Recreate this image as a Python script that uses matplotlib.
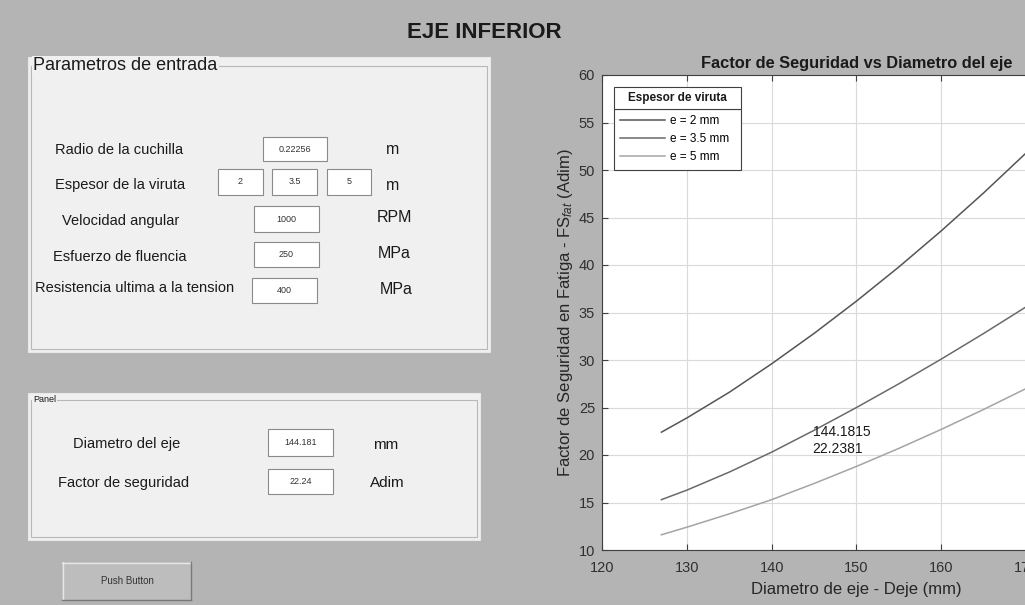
import matplotlib.pyplot as plt
from matplotlib.patches import Rectangle

plt.rcParams['font.family'] = ['Liberation Sans', 'DejaVu Sans']
plt.rcParams['mathtext.fontset'] = 'custom'
plt.rcParams['mathtext.rm'] = 'Liberation Sans'
plt.rcParams['mathtext.it'] = 'Liberation Sans:italic'

# --- Data ---
diam = [127, 130, 135, 140, 145, 150, 155, 160, 165, 170]          # mm
fs_e2 = [22.4, 23.9, 26.6, 29.6, 32.8, 36.2, 39.8, 43.6, 47.6, 51.8]
fs_e35 = [15.3, 16.3, 18.2, 20.3, 22.6, 25.0, 27.5, 30.1, 32.8, 35.6]
fs_e5 = [11.6, 12.4, 13.8, 15.3, 17.0, 18.8, 20.7, 22.7, 24.8, 27.0]
series_labels = ['e = 2 mm', 'e = 3.5 mm', 'e = 5 mm']
series_colors = ['#555555', '#6a6a6a', '#a4a4a4']

sel_d = 144.1815
sel_fs = 22.2381

# GUI input fields
inputs = [
    ('Radio de la cuchilla', ['0.22256'], 'm'),
    ('Espesor de la viruta', ['2', '3.5', '5'], 'm'),
    ('Velocidad angular', ['1000'], 'RPM'),
    ('Esfuerzo de fluencia', ['250'], 'MPa'),
    ('Resistencia ultima a la tension', ['400'], 'MPa'),
]
outputs = [
    ('Diametro del eje', '144.181', 'mm'),
    ('Factor de seguridad', '22.24', 'Adim'),
]

W, H = 1025, 605
BG = '#b4b4b4'
PANEL = '#f0f0f0'
TXT = '#1a1a1a'

fig = plt.figure(figsize=(W / 100, H / 100), dpi=100, facecolor=BG)

# --- background layer in pixel coordinates for the GUI widgets ---
bg = fig.add_axes([0, 0, 1, 1])
bg.set_xlim(0, W)
bg.set_ylim(H, 0)
bg.axis('off')


def rect(x0, y0, x1, y1, fc, ec='none', lw=0.8):
    bg.add_patch(Rectangle((x0, y0), x1 - x0, y1 - y0, fc=fc, ec=ec, lw=lw))


def edit_box(x0, y0, x1, y1, s):
    rect(x0, y0, x1, y1, 'white', '#8a8a8a', 0.8)
    bg.text((x0 + x1) / 2, (y0 + y1) / 2, s, ha='center', va='center',
            fontsize=6.5, color='#333333')


def panel(x0, y0, x1, y1, ty, title, tsize):
    rect(x0, y0, x1, y1, PANEL, '#e8e8e8', 0.8)
    rect(x0 + 3, ty, x1 - 3, y1 - 3, 'none', '#b8b8b8', 0.8)
    bg.text(x0 + 5, ty, title, ha='left', va='center', fontsize=tsize,
            color=TXT, bbox=dict(fc=PANEL, ec='none', pad=1))


bg.text(484, 32, 'EJE INFERIOR', ha='center', va='center', fontsize=16,
        fontweight='bold', color=TXT)

# panel 1: inputs
panel(28, 57, 490, 352, 66, 'Parametros de entrada', 13)
label_pos = [(55, 150), (55, 185), (62, 221), (53, 257), (35, 288)]
box_pos = [
    [(263, 137, 327, 161)],
    [(218, 169, 263, 195), (272, 169, 317, 195), (327, 169, 371, 195)],
    [(254, 206, 319, 232)],
    [(254, 242, 319, 267)],
    [(252, 278, 317, 303)],
]
unit_pos = [(393, 150), (393, 185), (395, 218), (394, 254), (396, 290)]
for (lab, vals, unit), (lx, ly), boxes, (ux, uy) in zip(inputs, label_pos, box_pos, unit_pos):
    bg.text(lx, ly, lab, ha='left', va='center', fontsize=10.5, color=TXT)
    for b, v in zip(boxes, vals):
        edit_box(*b, v)
    bg.text(ux, uy, unit, ha='center', va='center', fontsize=11.5, color=TXT)

# panel 2: results
panel(28, 393, 480, 540, 400, 'Panel', 6.5)
out_label = [(73, 444), (58, 483)]
out_box = [(268, 429, 333, 456), (268, 469, 333, 494)]
out_unit = [(386, 445), (387, 483)]
for (lab, val, unit), (lx, ly), b, (ux, uy) in zip(outputs, out_label, out_box, out_unit):
    bg.text(lx, ly, lab, ha='left', va='center', fontsize=10.5, color=TXT)
    edit_box(*b, val)
    bg.text(ux, uy, unit, ha='center', va='center', fontsize=11, color=TXT)

# push button
rect(62, 562, 191, 600, '#bdbdbd')
bg.plot([62, 191], [562.5, 562.5], color='#e6e6e6', lw=1)
bg.plot([62.5, 62.5], [562, 600], color='#e6e6e6', lw=1)
bg.plot([62, 191], [599.5, 599.5], color='#7a7a7a', lw=1)
bg.plot([190.5, 190.5], [562, 600], color='#7a7a7a', lw=1)
bg.text(127, 581, 'Push Button', ha='center', va='center', fontsize=7, color='#333333')

# --- chart ---
ax_l, ax_r, ax_t, ax_b = 602, 1111, 75, 550
ax = fig.add_axes([ax_l / W, (H - ax_b) / H, (ax_r - ax_l) / W, (ax_b - ax_t) / H])
ax.set_facecolor('white')
for y, lab, c in zip([fs_e2, fs_e35, fs_e5], series_labels, series_colors):
    ax.plot(diam, y, color=c, lw=1.1, label=lab)

ax.set_xlim(120, 180)
ax.set_ylim(10, 60)
ax.set_xticks(range(120, 181, 10))
ax.set_yticks(range(10, 61, 5))
ax.grid(True, color='#dadada', lw=0.8)
ax.set_axisbelow(True)
ax.tick_params(direction='in', length=4, labelsize=10.5, labelcolor='#303030',
               color='#404040', top=True, right=True)
ax.tick_params(axis='x', pad=8)
ax.tick_params(axis='y', pad=5)
for s in ax.spines.values():
    s.set_color('#404040')
    s.set_linewidth(0.8)

ax.set_title('Factor de Seguridad vs Diametro del eje', fontsize=11.8,
             fontweight='bold', color=TXT, pad=5)
ax.set_xlabel('Diametro de eje - Deje (mm)', fontsize=12, color='#262626', labelpad=5)
ax.set_ylabel('Factor de Seguridad en Fatiga - FS$_{fat}$ (Adim)', fontsize=12,
              color='#262626', labelpad=3)

ax.annotate(f'{sel_d:.4f}\n{sel_fs:.4f}', xy=(sel_d, sel_fs), xytext=(4, -5),
            textcoords='offset points', ha='left', va='center', fontsize=10,
            color=TXT, linespacing=1.3)

# legend: title cell drawn as its own box, entries below it
def ax_x(px):
    return (px - ax_l) / (ax_r - ax_l)


def ax_y(py):
    return (ax_b - py) / (ax_b - ax_t)


lx0, lx1, l_top, l_sep, l_bot = 614, 741, 87, 109, 169
ax.add_patch(Rectangle((ax_x(lx0), ax_y(l_sep)), ax_x(lx1) - ax_x(lx0),
                       ax_y(l_top) - ax_y(l_sep), transform=ax.transAxes,
                       fc='white', ec='#404040', lw=0.8, zorder=6))
ax.text((ax_x(lx0) + ax_x(lx1)) / 2, ax_y((l_top + l_sep) / 2), 'Espesor de viruta',
        transform=ax.transAxes, ha='center', va='center', fontsize=8.5,
        fontweight='bold', color=TXT, zorder=7)
leg = ax.legend(loc='upper left', mode='expand',
                bbox_to_anchor=(ax_x(lx0), ax_y(l_bot), ax_x(lx1) - ax_x(lx0),
                                ax_y(l_sep) - ax_y(l_bot)),
                borderaxespad=0, fontsize=8.5, handlelength=3.8, handletextpad=0.4,
                labelspacing=0.5, fancybox=False, edgecolor='#404040',
                framealpha=1, borderpad=0.55)
leg.get_frame().set_linewidth(0.8)

fig.savefig('out.png', dpi=100, facecolor=BG)
